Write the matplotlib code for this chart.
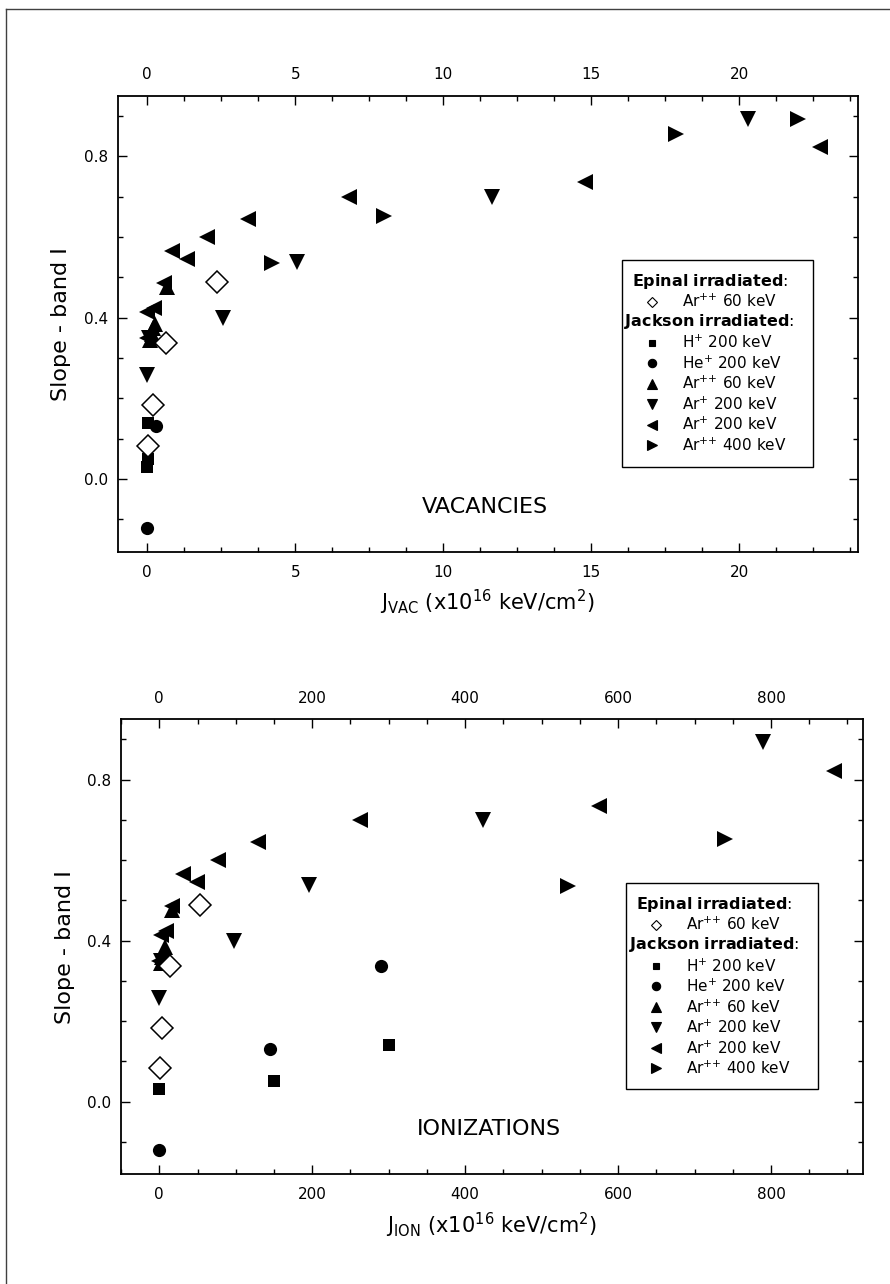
import matplotlib
matplotlib.use("Agg")
import matplotlib.pyplot as plt
import matplotlib.transforms as mtransforms
from matplotlib.lines import Line2D
from matplotlib.patches import Rectangle
from matplotlib.ticker import MultipleLocator

plt.rcParams['font.family'] = ['DejaVu Sans']
plt.rcParams['mathtext.fontset'] = 'dejavusans'

# Epinal irradiated, Ar++ 60 keV
ep_ar60_slope = [0.083, 0.184, 0.336, 0.488]
ep_ar60_jvac = [0.02, 0.19, 0.62, 2.36]
ep_ar60_jion = [0.5, 3.0, 13.5, 53.5]

# Jackson irradiated
h200_slope = [0.03, 0.05, 0.14]
h200_jvac = [0.0, 0.01, 0.02]
h200_jion = [0.0, 150, 300]

he200_slope = [-0.12, 0.131, 0.338]
he200_jvac = [0.0, 0.28, 0.56]
he200_jion = [0.0, 145, 290]

ar60_slope = [0.345, 0.36, 0.375, 0.385, 0.477]
ar60_jvac = [0.10, 0.15, 0.20, 0.25, 0.67]
ar60_jion = [2, 4, 6, 8, 16]

ar200a_slope = [0.258, 0.35, 0.398, 0.537, 0.70, 0.893]
ar200a_jvac = [0.0, 0.05, 2.56, 5.07, 11.65, 20.3]
ar200a_jion = [0.0, 2, 97.6, 195.6, 423, 789]

ar200b_slope = [0.35, 0.415, 0.425, 0.487, 0.545, 0.566, 0.601, 0.644, 0.70, 0.735, 0.822]
ar200b_jvac = [0.0, 0.0, 0.22, 0.57, 1.35, 0.84, 2.02, 3.4, 6.8, 14.8, 22.74]
ar200b_jion = [0.0, 2.6, 9, 17, 49.2, 30.9, 76.6, 129, 263, 575, 882.7]

ar400_slope = [0.535, 0.652, 0.856, 0.893]
ar400_jvac = [4.23, 8.0, 17.85, 22.0]
ar400_jion = [535, 740, 1700, 2090]

# marker, size, label -- Jackson series first, Epinal diamonds on top
jackson = [
    (h200_jvac, h200_jion, h200_slope, 's', 8.5, r'H$^{+}$ 200 keV'),
    (he200_jvac, he200_jion, he200_slope, 'o', 9.5, r'He$^{+}$ 200 keV'),
    (ar60_jvac, ar60_jion, ar60_slope, '^', 12, r'Ar$^{{+}{+}}$ 60 keV'),
    (ar200a_jvac, ar200a_jion, ar200a_slope, 'v', 12, r'Ar$^{+}$ 200 keV'),
    (ar200b_jvac, ar200b_jion, ar200b_slope, '<', 12, r'Ar$^{+}$ 200 keV'),
    (ar400_jvac, ar400_jion, ar400_slope, '>', 12, r'Ar$^{{+}{+}}$ 400 keV'),
]

fig = plt.figure(figsize=(8.9, 12.84), dpi=100)
ax1 = fig.add_axes([0.1322, 0.5703, 0.8315, 0.3552])
ax2 = fig.add_axes([0.1360, 0.0857, 0.8334, 0.3541])

# thin frame around the page
fig.add_artist(Line2D([6 / 890, 6 / 890], [0, 1 - 9 / 1284], transform=fig.transFigure,
                      color='#404040', lw=1))
fig.add_artist(Line2D([6 / 890, 1], [1 - 9 / 1284, 1 - 9 / 1284], transform=fig.transFigure,
                      color='#404040', lw=1))


def draw_key(ax):
    def at(dx, dy):
        return mtransforms.offset_copy(ax.transAxes, fig=fig, x=dx, y=-dy, units='dots')

    ax.add_patch(Rectangle((0.681, 0.640), 0.258, -0.454, transform=ax.transAxes,
                           facecolor='white', edgecolor='black', lw=1, zorder=5))
    corner = (0.681, 0.640)
    rows = [
        (None, r'$\mathbf{Epinal\ irradiated}$:', 10, 21.7),
        ('D', r'Ar$^{{+}{+}}$ 60 keV', None, 41.7),
        (None, r'$\mathbf{Jackson\ irradiated}$:', 2.5, 61.7),
    ]
    ys = [83, 103.5, 124, 144.5, 165, 185.5]
    for (_, _, _, m, _, lab), y in zip(jackson, ys):
        rows.append((m, lab, None, y))
    for m, lab, tx, y in rows:
        if m is None:
            ax.text(corner[0], corner[1], lab, transform=at(tx, y), ha='left', va='center',
                    fontsize=11.5, zorder=6)
            continue
        size = {'D': 5.5, 's': 5, 'o': 6}.get(m, 6.5)
        face = 'white' if m == 'D' else 'black'
        ax.plot([corner[0]], [corner[1]], linestyle='none', marker=m, ms=size, mfc=face,
                mec='black', mew=0.8, transform=at(30, y), clip_on=False, zorder=6)
        ax.text(corner[0], corner[1], lab, transform=at(60, y), ha='left', va='center',
                fontsize=11, zorder=6)


def draw_panel(ax, col, xlim, major, minor, xlabel, tag):
    for series in jackson:
        x = series[col]
        ax.plot(x, series[2], linestyle='none', marker=series[3], ms=series[4],
                mfc='black', mec='black', mew=0)
    ep_x = [ep_ar60_jvac, ep_ar60_jion][col]
    ax.plot(ep_x, ep_ar60_slope, linestyle='none', marker='D', ms=11.5,
            mfc='white', mec='black', mew=1.1)

    ax.set_xlim(*xlim)
    ax.set_ylim(-0.18, 0.95)
    ax.xaxis.set_major_locator(MultipleLocator(major))
    ax.xaxis.set_minor_locator(MultipleLocator(minor))
    ax.yaxis.set_major_locator(MultipleLocator(0.4))
    ax.yaxis.set_minor_locator(MultipleLocator(0.1))
    ax.tick_params(which='both', direction='in', top=True, right=True, labeltop=True,
                   width=1, labelsize=11)
    ax.tick_params(which='major', length=6.5)
    ax.tick_params(which='minor', length=3.6)
    ax.tick_params(axis='x', pad=9.5)
    ax.tick_params(axis='y', pad=7)
    for sp in ax.spines.values():
        sp.set_linewidth(1.3)

    ax.set_xlabel(xlabel, fontsize=15, labelpad=6)
    ax.set_ylabel('Slope - band I', fontsize=16, labelpad=9)
    ax.text(0.496, 0.098, tag, transform=ax.transAxes, ha='center', va='center', fontsize=16)
    draw_key(ax)


draw_panel(ax1, 0, (-1, 24), 5, 1.25,
           r'J$_{\mathrm{VAC}}$ (x10$^{16}$ keV/cm$^{2}$)', 'VACANCIES')
draw_panel(ax2, 1, (-50, 920), 200, 50,
           r'J$_{\mathrm{ION}}$ (x10$^{16}$ keV/cm$^{2}$)', 'IONIZATIONS')

fig.savefig('out.png', dpi=100)
